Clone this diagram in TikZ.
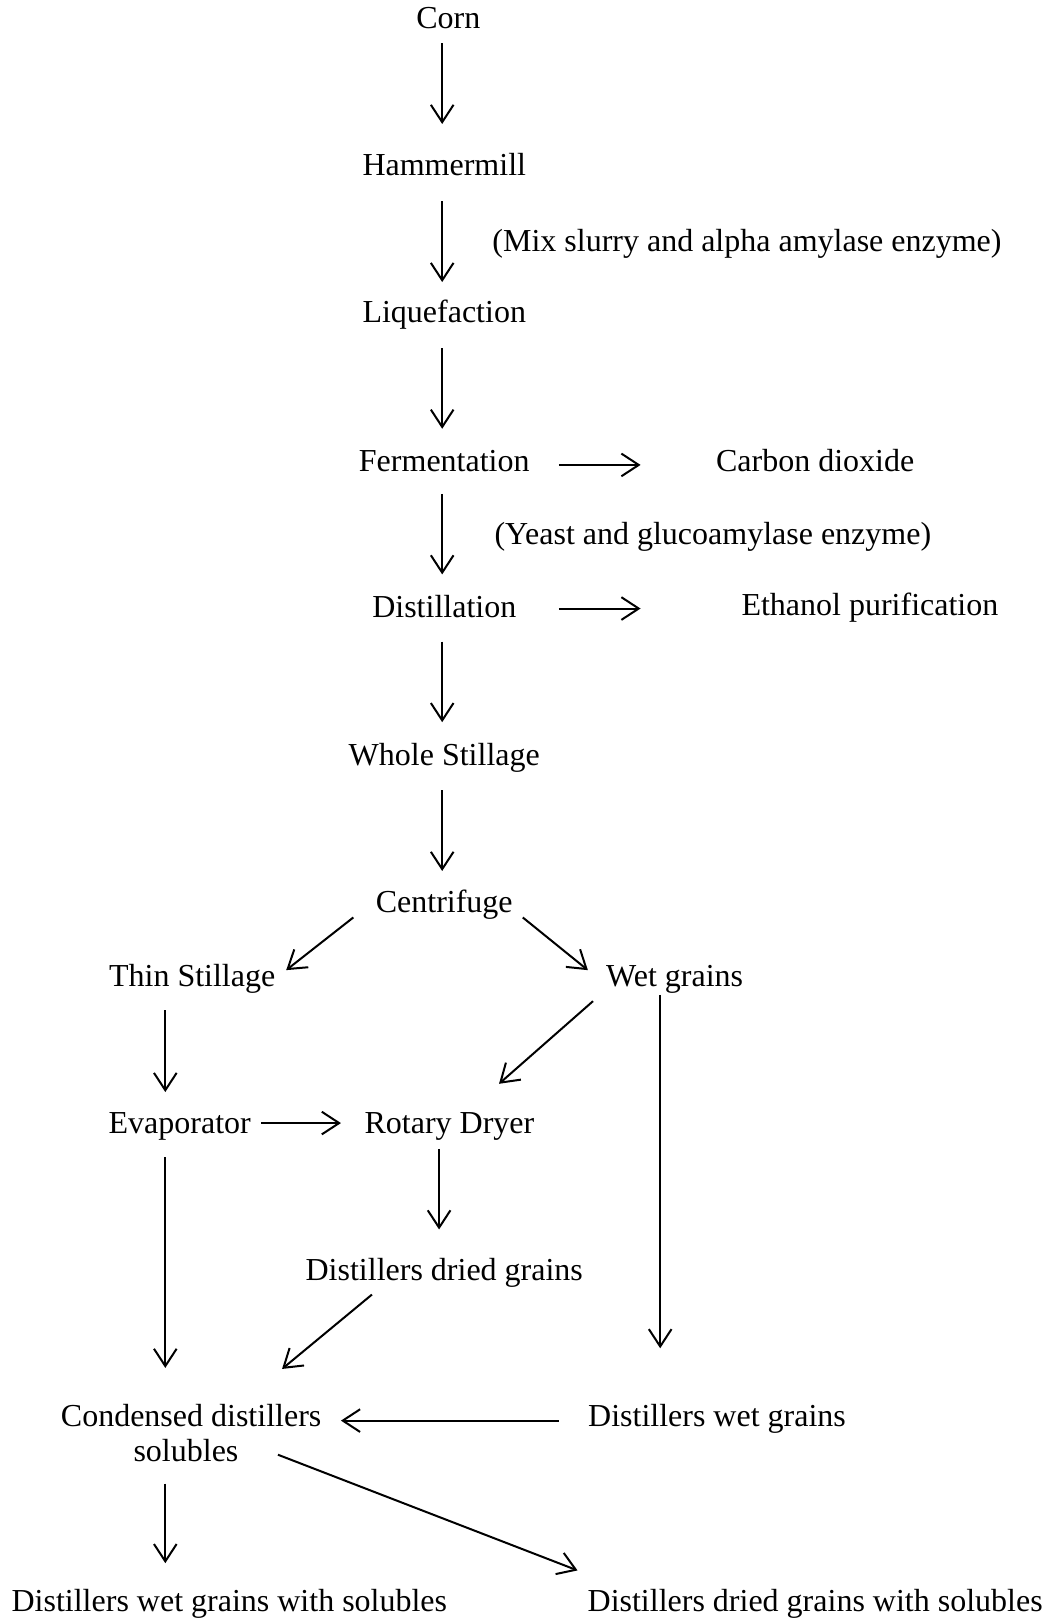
\documentclass[tikz,border=0pt]{standalone}
\usepackage{fontspec}
\setmainfont{Liberation Serif}
\usetikzlibrary{arrows.meta,calc}
\begin{document}
\begin{tikzpicture}[x=0.7749pt,y=-0.7749pt,
  lbl/.style={anchor=base,inner sep=0pt,font=\fontsize{24pt}{28pt}\selectfont},
  arr/.style={line width=1.5pt,-{Straight Barb[length=13pt,width=17pt,line width=1.5pt]}}]
\useasboundingbox (0,0) rectangle (1024,1568);
% nodes
\node[lbl] (corn)   at (434,28)   {Corn};
\node[lbl] (hammer) at (430,170)  {Hammermill};
\node[lbl] (mix)    at (723,243)  {(Mix slurry and alpha amylase enzyme)};
\node[lbl] (liq)    at (430,312)  {Liquefaction};
\node[lbl] (ferm)   at (430,456)  {Fermentation};
\node[lbl] (co2)    at (789,456)  {Carbon dioxide};
\node[lbl] (yeast)  at (690,527)  {(Yeast and glucoamylase enzyme)};
\node[lbl] (dist)   at (430,598)  {Distillation};
\node[lbl] (eth)    at (842,596)  {Ethanol purification};
\node[lbl] (whole)  at (430,741)  {Whole Stillage};
\node[lbl] (centr)  at (430,883)  {Centrifuge};
\node[lbl] (thin)   at (186,955)  {Thin Stillage};
\node[lbl] (wet)    at (653,955)  {Wet grains};
\node[lbl] (evap)   at (174,1097) {Evaporator};
\node[lbl] (rotary) at (435,1097) {Rotary Dryer};
\node[lbl] (ddg)    at (430,1239) {Distillers dried grains};
\node[lbl] (cds1)   at (185,1381) {Condensed distillers};
\node[lbl] (cds2)   at (180,1415) {solubles};
\node[lbl] (dwg)    at (694,1381) {Distillers wet grains};
\node[lbl] (dwgs)   at (222,1560) {Distillers wet grains with solubles};
\node[lbl] (ddgs)   at (789,1560) {Distillers dried grains with solubles};
% connectors
\draw[arr] ($(corn.base)+(-6,14)$)   -- ($(hammer.base)+(-2,-50)$);
\draw[arr] ($(hammer.base)+(-2,25)$) -- ($(liq.base)+(-2,-39)$);
\draw[arr] ($(liq.base)+(-2,25)$)    -- ($(ferm.base)+(-2,-41)$);
\draw[arr] ($(ferm.base)+(-2,22)$)   -- ($(dist.base)+(-2,-42)$);
\draw[arr] ($(dist.base)+(-2,23)$)   -- ($(whole.base)+(-2,-42)$);
\draw[arr] ($(whole.base)+(-2,24)$)  -- ($(centr.base)+(-2,-40)$);
\draw[arr] ($(ferm.base)+(111,-6)$)  -- ($(co2.base)+(-169,-6)$);
\draw[arr] ($(dist.base)+(111,-9)$)  -- ($(eth.base)+(-222,-7)$);
\draw[arr] ($(centr.base)+(-88,5)$)  -- ($(thin.base)+(91,-16)$);
\draw[arr] ($(centr.base)+(76,5)$)   -- ($(wet.base)+(-84,-16)$);
\draw[arr] ($(wet.base)+(-79,14)$)   -- ($(rotary.base)+(48,-48)$);
\draw[arr] ($(wet.base)+(-14,8)$)    -- ($(dwg.base)+(-55,-76)$);
\draw[arr] ($(thin.base)+(-26,23)$)  -- ($(evap.base)+(-14,-40)$);
\draw[arr] ($(evap.base)+(79,-10)$)  -- ($(rotary.base)+(-105,-10)$);
\draw[arr] ($(rotary.base)+(-10,15)$) -- ($(ddg.base)+(-5,-49)$);
\draw[arr] ($(evap.base)+(-14,23)$)  -- ($(cds1.base)+(-25,-57)$);
\draw[arr] ($(ddg.base)+(-70,14)$)   -- ($(cds1.base)+(88,-56)$);
\draw[arr] ($(dwg.base)+(-153,-6)$)  -- ($(cds1.base)+(145,-6)$);
\draw[arr] ($(cds2.base)+(-20,21)$)  -- ($(dwgs.base)+(-62,-47)$);
\draw[arr] ($(cds2.base)+(89,-7)$)   -- ($(ddgs.base)+(-230,-40)$);
\end{tikzpicture}
\end{document}
